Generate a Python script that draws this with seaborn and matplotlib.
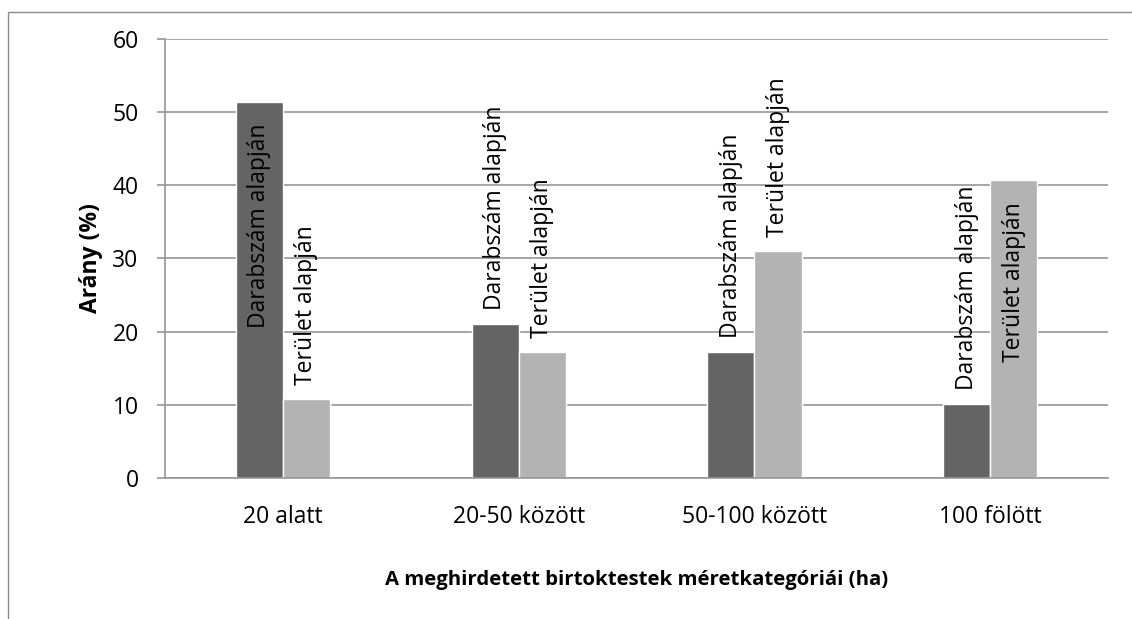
import matplotlib
matplotlib.use('Agg')
import matplotlib.pyplot as plt
import pandas as pd
import seaborn as sns
from matplotlib.patches import Rectangle

# data
categories = ['20 alatt', '20-50 között', '50-100 között', '100 fölött']
series = ['Darabszám alapján', 'Terület alapján']
darabszam = [51.4, 21.1, 17.25, 10.15]
terulet = [10.8, 17.25, 31.05, 40.75]
yticks = [0, 10, 20, 30, 40, 50, 60]

df = pd.DataFrame({
    'kategoria': categories * 2,
    'sorozat': [series[0]] * len(categories) + [series[1]] * len(categories),
    'arany': darabszam + terulet,
})

sns.set_theme(style='white')
plt.rcParams['font.family'] = ['Open Sans', 'DejaVu Sans']
plt.rcParams['text.color'] = 'black'
plt.rcParams['axes.labelcolor'] = 'black'
plt.rcParams['xtick.color'] = 'black'
plt.rcParams['ytick.color'] = 'black'
grid_col = '#969696'

fig = plt.figure(figsize=(11.32, 6.19), dpi=100)
ax = fig.add_axes([0.1458, 0.2273, 0.8330, 0.7102])

sns.barplot(data=df, x='kategoria', y='arany', hue='sorozat',
            hue_order=series, palette=['#646464', '#b3b3b3'],
            width=0.4, gap=0, saturation=1, errorbar=None,
            legend=False, ax=ax)

ax.set_xlim(-0.5, 3.5)
ax.set_ylim(0, 60)
ax.set_yticks(yticks)
ax.yaxis.grid(True, color=grid_col, lw=1.2)
ax.set_axisbelow(True)
for s in ['top', 'right']:
    ax.spines[s].set_visible(False)
ax.spines['left'].set_color(grid_col)
ax.spines['bottom'].set_color(grid_col)
ax.spines['left'].set_linewidth(1.2)
ax.spines['bottom'].set_linewidth(1.2)
ax.tick_params(axis='y', length=6, color=grid_col, width=1.2, pad=13,
               labelsize=16.5, left=True, labelcolor='black')
ax.tick_params(axis='x', length=0, pad=19, labelsize=16.5, labelcolor='black')

ax.set_ylabel('Arány (%)', fontsize=16.5, fontweight='bold', labelpad=7)
ax.set_xlabel('A meghirdetett birtoktestek méretkategóriái (ha)',
              fontsize=14.7, fontweight='bold', labelpad=30)

# rotated labels above the bars, moved inside if they would leave the plot
fig.canvas.draw()
r = fig.canvas.get_renderer()
ax_top = ax.get_window_extent(r).y1
for cont, label in zip(ax.containers, series):
    for bar in cont:
        x = bar.get_x() + bar.get_width() / 2
        h = bar.get_height()
        t = ax.annotate(label, (x, h), xytext=(0, 10), textcoords='offset points',
                        rotation=90, ha='center', va='bottom', fontsize=16.5,
                        color='black')
        if t.get_window_extent(r).y1 > ax_top:
            t.xyann = (0, -16)
            t.set_va('top')

# outer frame (top and left edge only visible)
fig.add_artist(Rectangle((7.5 / 1132, -0.5), 2, 0.5 + (619 - 11.5) / 619,
                         transform=fig.transFigure, fill=False,
                         edgecolor='#8c8c8c', lw=1))

fig.savefig('out.png', dpi=100)
